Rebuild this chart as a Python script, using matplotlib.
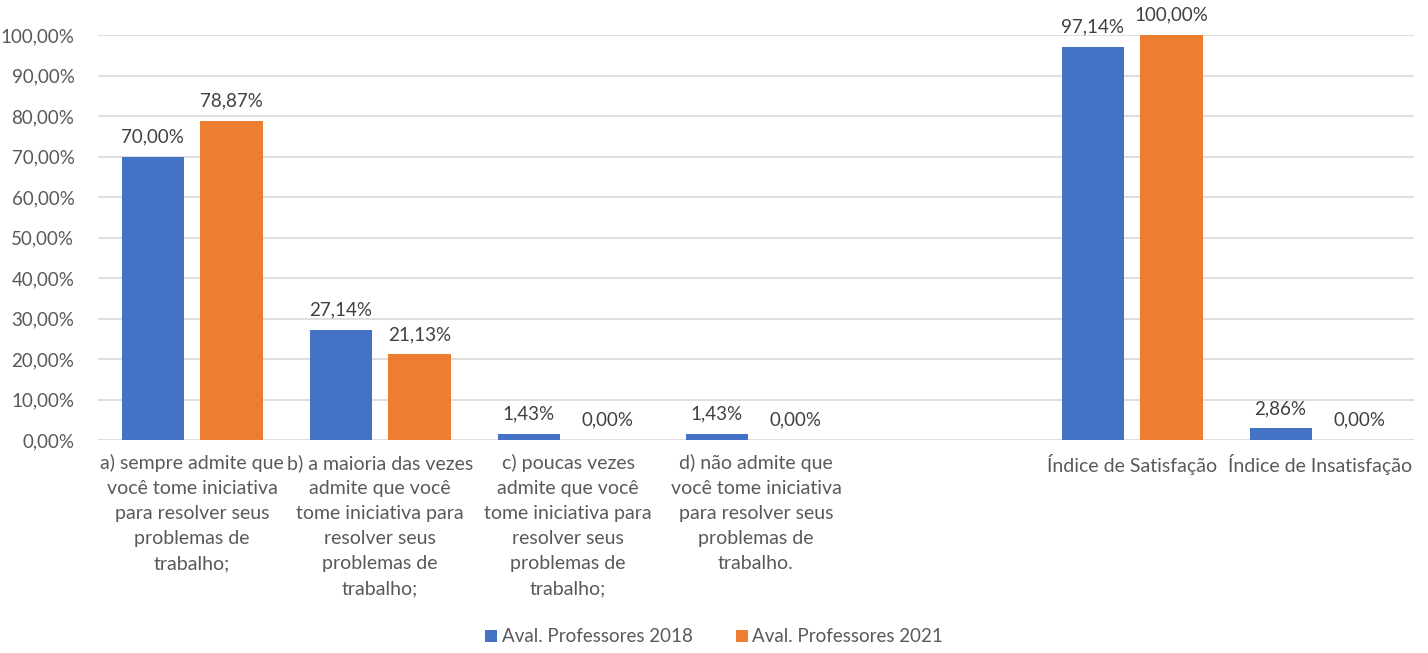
import matplotlib
matplotlib.use("Agg")
import matplotlib.pyplot as plt
import numpy as np

categories = [
    "a) sempre admite que\nvocê tome iniciativa\npara resolver seus\nproblemas de\ntrabalho;",
    "b) a maioria das vezes\nadmite que você\ntome iniciativa para\nresolver seus\nproblemas de\ntrabalho;",
    "c) poucas vezes\nadmite que você\ntome iniciativa para\nresolver seus\nproblemas de\ntrabalho;",
    "d) não admite que\nvocê tome iniciativa\npara resolver seus\nproblemas de\ntrabalho.",
    "",
    "Índice de Satisfação",
    "Índice de Insatisfação",
]
series_names = ["Aval. Professores 2018", "Aval. Professores 2021"]
vals_2018 = [70.00, 27.14, 1.43, 1.43, np.nan, 97.14, 2.86]
vals_2021 = [78.87, 21.13, 0.00, 0.00, np.nan, 100.00, 0.00]
yticks = [0, 10, 20, 30, 40, 50, 60, 70, 80, 90, 100]

colors = ["#4472C4", "#ED7D31"]
txt = "#595959"
plt.rcParams['font.family'] = ['Lato', 'DejaVu Sans']

fig = plt.figure(figsize=(14.28, 6.53), dpi=100)
ax = fig.add_axes([98/1428, 1-440/653, (1414-98)/1428, 405/653])

x = np.arange(len(categories))
w = 0.33
off = 0.21
for i, (vals, c, name) in enumerate(zip([vals_2018, vals_2021], colors, series_names)):
    pos = x + (-off if i == 0 else off)
    ax.bar(pos, vals, width=w, color=c, label=name, zorder=3)
    for p, v in zip(pos, vals):
        if np.isnan(v):
            continue
        ax.text(p, v + 2.8, f"{v:.2f}%".replace(".", ","), ha="center", va="bottom",
                fontsize=13.5, color="#404040", clip_on=False)

ax.set_xlim(-0.5, len(categories) - 0.5)
ax.set_ylim(0, 100)
ax.set_yticks(yticks)
ax.set_yticklabels([f"{t:.2f}%".replace(".", ",") for t in yticks], fontsize=13.5, color=txt)
ax.set_xticks(x)
ax.set_xticklabels(categories, fontsize=14, color=txt, linespacing=1.58, va="top")
ax.tick_params(axis="y", length=0, pad=17)
ax.tick_params(axis="x", length=0, pad=10)
ax.grid(axis="y", color="#d9d9d9", linewidth=1.2, zorder=0)
for s in ax.spines.values():
    s.set_visible(False)

leg = fig.legend(loc="center", bbox_to_anchor=(0.5, 1-637/653), ncol=2, frameon=False,
                 fontsize=13.5, handlelength=0.65, handleheight=0.65, columnspacing=2.3,
                 handletextpad=0.25)
for t in leg.get_texts():
    t.set_color(txt)

fig.savefig("out.png", dpi=100)
